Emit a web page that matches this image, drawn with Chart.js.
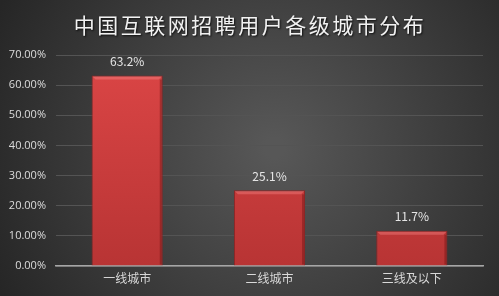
<!DOCTYPE html>
<html>
<head>
<meta charset="utf-8">
<script src="https://cdn.jsdelivr.net/npm/chart.js@4/dist/chart.umd.min.js"></script>
<style>
  html, body { margin: 0; padding: 0; background: #333; }
  #wrap { width: 499px; height: 296px; }
</style>
</head>
<body>
<div id="wrap"><canvas id="barChart" width="499" height="296"></canvas></div>
<script>
var title = '中国互联网招聘用户各级城市分布'
var cities = ['一线城市', '二线城市', '三线及以下']
var shares = [63.2, 25.1, 11.7]
var yTicks = [0, 10, 20, 30, 40, 50, 60, 70]

var cjk = '"Noto Sans CJK SC", "Noto Sans", sans-serif'

// dark radial background + the big title
var backdrop = {
  id: 'backdrop',
  beforeDraw: function(chart) {
    var ctx = chart.ctx
    var w = chart.width, h = chart.height
    ctx.save()
    var g = ctx.createRadialGradient(w * 0.55, h * 0.5, 10, w * 0.55, h * 0.5, w * 0.62)
    g.addColorStop(0, '#575757')
    g.addColorStop(1, '#262626')
    ctx.fillStyle = g
    ctx.fillRect(0, 0, w, h)
    ctx.restore()
  },
  afterDraw: function(chart) {
    var ctx = chart.ctx
    ctx.save()
    ctx.font = '21px ' + cjk
    ctx.letterSpacing = '2.5px'
    ctx.fillStyle = '#f2f2f2'
    ctx.textAlign = 'center'
    ctx.textBaseline = 'middle'
    ctx.shadowColor = 'rgba(0,0,0,0.8)'
    ctx.shadowOffsetX = 1
    ctx.shadowOffsetY = 1
    ctx.shadowBlur = 2
    ctx.fillText(title, 250, 25)
    ctx.restore()
  }
}

// bevel look on the bars + value labels above them
var valueLabels = {
  id: 'valueLabels',
  afterDatasetsDraw: function(chart) {
    var ctx = chart.ctx
    var meta = chart.getDatasetMeta(0)
    ctx.save()
    meta.data.forEach(function(bar) {
      var left = bar.x - bar.width / 2, right = bar.x + bar.width / 2
      var top = bar.y, bottom = bar.base
      // top highlight
      ctx.fillStyle = 'rgba(255,150,150,0.35)'
      ctx.beginPath()
      ctx.moveTo(left + 1, top + 1)
      ctx.lineTo(right - 1, top + 1)
      ctx.lineTo(right - 4, top + 4)
      ctx.lineTo(left + 4, top + 4)
      ctx.closePath()
      ctx.fill()
      // right shade
      ctx.fillStyle = 'rgba(90,10,10,0.35)'
      ctx.fillRect(right - 3, top + 4, 2, bottom - top - 5)
    })
    ctx.font = '12px ' + cjk
    ctx.fillStyle = '#e6e6e6'
    ctx.textAlign = 'center'
    ctx.textBaseline = 'middle'
    meta.data.forEach(function(bar, i) {
      ctx.fillText(shares[i].toFixed(1) + '%', bar.x, bar.y - 14)
    })
    ctx.restore()
  }
}

function barFill(context) {
  var area = context.chart.chartArea
  if (!area) return '#d04040'
  var g = context.chart.ctx.createLinearGradient(0, area.top, 0, area.bottom)
  g.addColorStop(0, '#dc4646')
  g.addColorStop(1, '#b83434')
  return g
}

var chart = new Chart(document.getElementById('barChart'), {
  type: 'bar',
  data: {
    labels: cities,
    datasets: [{
      data: shares,
      backgroundColor: barFill,
      borderColor: '#8f2424',
      borderWidth: 1,
      barPercentage: 0.5,
      categoryPercentage: 1.0
    }]
  },
  options: {
    responsive: false,
    animation: false,
    layout: { padding: { top: 55, right: 16, left: 0, bottom: 0 } },
    plugins: {
      legend: { display: false },
      tooltip: { enabled: false }
    },
    scales: {
      x: {
        grid: { display: false, drawTicks: false },
        border: { color: '#a6a6a6', width: 1.5 },
        ticks: {
          color: '#d9d9d9',
          font: { size: 12, family: cjk },
          padding: 5
        },
        afterFit: function(scale) { scale.height = 30 }
      },
      y: {
        min: 0,
        max: 70,
        afterBuildTicks: function(scale) {
          scale.ticks = yTicks.map(function(v) { return { value: v } })
        },
        grid: { color: '#545454', drawTicks: false },
        border: { display: false },
        ticks: {
          color: '#dcdcdc',
          font: { size: 11, family: '"Open Sans", sans-serif' },
          padding: 10,
          callback: function(v) { return v.toFixed(2) + '%' }
        },
        afterFit: function(scale) { scale.width = 56 }
      }
    }
  },
  plugins: [backdrop, valueLabels]
})
</script>
</body>
</html>
